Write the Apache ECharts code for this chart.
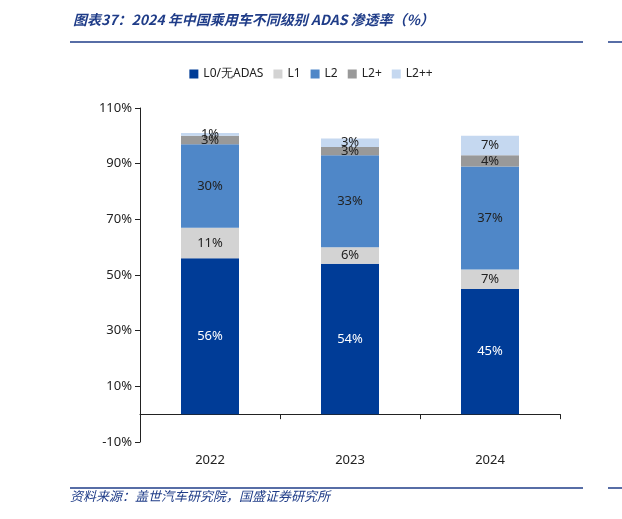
<!DOCTYPE html>
<html>
<head>
<meta charset="utf-8">
<script src="https://cdn.jsdelivr.net/npm/echarts@6/dist/echarts.min.js"></script>
<style>
  html, body { margin: 0; padding: 0; background: #fff; }
  #main { width: 622px; height: 519px; }
</style>
</head>
<body>
<div id="main"></div>
<script>
var years = ['2022', '2023', '2024'];
var l0 = [56, 54, 45];
var l1 = [11, 6, 7];
var l2 = [30, 33, 37];
var l2p = [3, 3, 4];
var l2pp = [1, 3, 7];
var yTicks = { min: -10, max: 110, interval: 20 };

var chartDom = document.getElementById('main');
var myChart = echarts.init(chartDom);

function seg(name, data, color, labelColor) {
  return {
    name: name,
    type: 'bar',
    stack: 'total',
    barWidth: 58,
    data: data,
    itemStyle: { color: color },
    label: {
      show: true,
      position: 'inside',
      formatter: '{c}%',
      color: labelColor,
      fontSize: 13,
      fontFamily: 'Noto Sans'
    }
  };
}

var option = {
  animation: false,
  title: {
    text: '图表37：2024 年中国乘用车不同级别 ADAS 渗透率（%）',
    left: 68,
    top: 8,
    textStyle: { color: '#1f3c88', fontSize: 14, fontStyle: 'italic', fontWeight: 'bold', fontFamily: 'Noto Sans CJK SC' }
  },
  graphic: [
    { type: 'line', shape: { x1: 70, y1: 42, x2: 583, y2: 42 }, style: { stroke: '#1f3c88', lineWidth: 1.5 } },
    { type: 'line', shape: { x1: 608, y1: 42, x2: 622, y2: 42 }, style: { stroke: '#1f3c88', lineWidth: 1.5 } },
    { type: 'line', shape: { x1: 70, y1: 488, x2: 583, y2: 488 }, style: { stroke: '#1f3c88', lineWidth: 1.5 } },
    { type: 'line', shape: { x1: 608, y1: 488, x2: 622, y2: 488 }, style: { stroke: '#1f3c88', lineWidth: 1.5 } },
    { type: 'text', left: 70, top: 490, style: { text: '资料来源：盖世汽车研究院，国盛证券研究所', fill: '#1f3c88', font: 'italic 13px "Noto Sans CJK SC"' } }
  ],
  legend: {
    top: 63,
    left: 'center',
    itemWidth: 9,
    itemHeight: 9,
    itemGap: 10,
    icon: 'rect',
    textStyle: { color: '#222', fontSize: 12, fontFamily: 'Noto Sans' },
    data: ['L0/无ADAS', 'L1', 'L2', 'L2+', 'L2++']
  },
  grid: { left: 140, right: 62, top: 108, bottom: 77 },
  xAxis: {
    type: 'category',
    data: years,
    axisLine: { onZero: true, lineStyle: { color: '#222' } },
    axisTick: { show: true, alignWithLabel: false, lineStyle: { color: '#222' } },
    axisLabel: { color: '#222', fontSize: 13, fontFamily: 'Noto Sans', margin: 12 }
  },
  yAxis: {
    type: 'value',
    min: yTicks.min,
    max: yTicks.max,
    interval: yTicks.interval,
    axisLine: { show: true, lineStyle: { color: '#222' } },
    axisTick: { show: true, lineStyle: { color: '#222' } },
    splitLine: { show: false },
    axisLabel: { color: '#222', fontSize: 13, fontFamily: 'Noto Sans', formatter: '{value}%' }
  },
  series: [
    seg('L0/无ADAS', l0, '#003c97', '#fff'),
    seg('L1', l1, '#d3d3d3', '#222'),
    seg('L2', l2, '#4f87c8', '#222'),
    seg('L2+', l2p, '#999999', '#222'),
    seg('L2++', l2pp, '#c5d8f0', '#222')
  ]
};

myChart.setOption(option);
</script>
</body>
</html>
